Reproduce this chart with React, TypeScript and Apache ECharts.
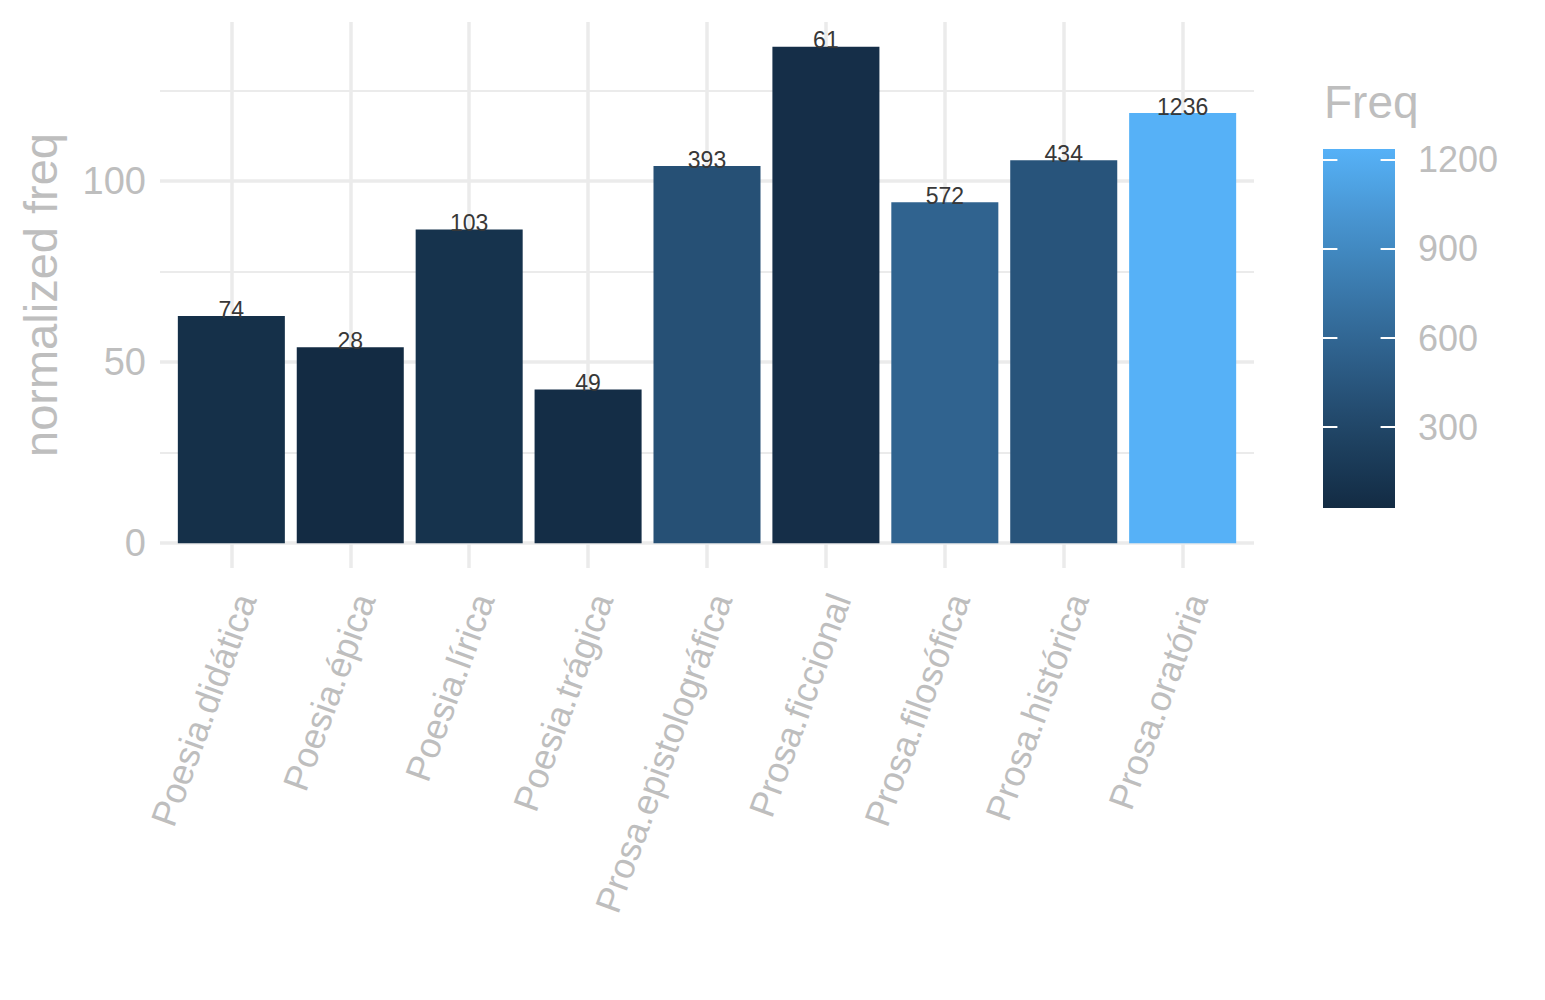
import React, { useEffect, useRef } from "react";
import * as echarts from "echarts";

// data
const genres = [
  "Poesia.didática",
  "Poesia.épica",
  "Poesia.lírica",
  "Poesia.trágica",
  "Prosa.epistolográfica",
  "Prosa.ficcional",
  "Prosa.filosófica",
  "Prosa.histórica",
  "Prosa.oratória",
];
const normFreq = [62.7, 54.1, 86.6, 42.4, 104.1, 137.0, 94.1, 105.7, 118.7];
const freq = [74, 28, 103, 49, 393, 61, 572, 434, 1236];

const lowColor = "#132B43";
const highColor = "#56B1F7";
const textGrey = "#BEBEBE";
const gridGrey = "#EBEBEB";

// ggplot blends its gradient in CIELAB, so build a few stops that way
function toLab(hex: string) {
  const rgb = [1, 3, 5].map((i) => parseInt(hex.slice(i, i + 2), 16) / 255);
  const [r, g, b] = rgb.map((c) => (c <= 0.04045 ? c / 12.92 : Math.pow((c + 0.055) / 1.055, 2.4)));
  const x = (0.4124 * r + 0.3576 * g + 0.1805 * b) / 0.95047;
  const y = 0.2126 * r + 0.7152 * g + 0.0722 * b;
  const z = (0.0193 * r + 0.1192 * g + 0.9505 * b) / 1.08883;
  const f = (t: number) => (t > 0.008856 ? Math.cbrt(t) : 7.787 * t + 16 / 116);
  return [116 * f(y) - 16, 500 * (f(x) - f(y)), 200 * (f(y) - f(z))];
}

function fromLab([L, A, B]: number[]) {
  const fy = (L + 16) / 116;
  const fx = fy + A / 500;
  const fz = fy - B / 200;
  const inv = (t: number) => (t * t * t > 0.008856 ? t * t * t : (t - 16 / 116) / 7.787);
  const x = inv(fx) * 0.95047;
  const y = inv(fy);
  const z = inv(fz) * 1.08883;
  const lin = [
    3.2406 * x - 1.5372 * y - 0.4986 * z,
    -0.9689 * x + 1.8758 * y + 0.0415 * z,
    0.0557 * x - 0.204 * y + 1.057 * z,
  ];
  return (
    "#" +
    lin
      .map((c) => {
        const s = c <= 0.0031308 ? 12.92 * c : 1.055 * Math.pow(c, 1 / 2.4) - 0.055;
        const v = Math.round(Math.min(1, Math.max(0, s)) * 255);
        return v.toString(16).padStart(2, "0");
      })
      .join("")
  );
}

function labRamp(a: string, b: string, n: number) {
  const la = toLab(a);
  const lb = toLab(b);
  const out: string[] = [];
  for (let i = 0; i < n; i++) {
    const t = i / (n - 1);
    out.push(fromLab(la.map((v, k) => v + (lb[k] - v) * t)));
  }
  return out;
}

export default function App() {
  const chartRef = useRef<HTMLDivElement>(null);

  useEffect(() => {
    if (!chartRef.current) return;
    const chart = echarts.init(chartRef.current, null, { renderer: "svg" });

    const yTop = Math.max(...normFreq);
    const yMin = -0.05 * yTop;
    const yMax = yTop * 1.05;
    const fMin = Math.min(...freq);
    const fMax = Math.max(...freq);
    const ramp = labRamp(lowColor, highColor, 12);

    // panel 160..1254; discrete axis padded by 0.6 of a band on each side
    const panelLeft = 160;
    const panelWidth = 1094;
    const band = panelWidth / (genres.length - 1 + 1.2);

    // colour bar box, ticks are a fifth of its width on each side
    const bar = { x: 1323, y: 149, w: 72, h: 359 };
    const tickLen = bar.w / 5;

    const option = {
      animation: false,
      textStyle: { fontFamily: "Liberation Sans, Arial, Helvetica, sans-serif" },
      title: {
        text: "Freq",
        left: 1324,
        top: 79,
        padding: 0,
        textStyle: { fontSize: 46, fontWeight: "normal", color: textGrey },
      },
      graphic: [
        {
          type: "rect",
          z: 1,
          shape: { x: bar.x, y: bar.y, width: bar.w, height: bar.h },
          style: {
            fill: new echarts.graphic.LinearGradient(
              0,
              1,
              0,
              0,
              ramp.map((c, i) => ({ offset: i / (ramp.length - 1), color: c }))
            ),
          },
        },
      ],
      grid: [
        { left: panelLeft, top: 22, width: panelWidth, height: 546, outerBoundsMode: "none" },
        {
          left: panelLeft + 0.1 * band,
          top: 22,
          width: band * genres.length,
          height: 546,
          outerBoundsMode: "none",
        },
        { left: bar.x, top: bar.y, width: bar.w, height: bar.h, outerBoundsMode: "none" },
      ],
      xAxis: [
        { type: "value", gridIndex: 0, min: 0, max: 1, show: false },
        {
          type: "category",
          gridIndex: 1,
          data: genres,
          axisLine: { show: false },
          axisTick: { show: false },
          splitLine: { show: true, alignWithLabel: true, lineStyle: { color: gridGrey, width: 3.5 } },
          axisLabel: {
            interval: 0,
            rotate: 70,
            align: "right",
            verticalAlign: "top",
            lineHeight: 30,
            margin: 22,
            fontSize: 36,
            color: textGrey,
          },
        },
        { type: "value", gridIndex: 2, min: 0, max: 1, show: false },
      ],
      yAxis: [
        {
          type: "value",
          gridIndex: 0,
          min: yMin,
          max: yMax,
          splitNumber: 3,
          axisLine: { show: false },
          axisTick: { show: false },
          axisLabel: {
            fontSize: 38,
            color: textGrey,
            margin: 14,
            showMinLabel: false,
            showMaxLabel: false,
          },
          splitLine: {
            show: true,
            showMinLine: false,
            showMaxLine: false,
            lineStyle: { color: gridGrey, width: 3.5 },
          },
          minorTick: { show: false, splitNumber: 2 },
          minorSplitLine: { show: true, lineStyle: { color: gridGrey, width: 1.8 } },
          name: "normalized freq",
          nameLocation: "middle",
          nameGap: 96,
          nameTextStyle: { fontSize: 47, color: textGrey },
        },
        { type: "value", gridIndex: 1, min: yMin, max: yMax, show: false },
        {
          type: "value",
          gridIndex: 2,
          position: "right",
          min: fMin,
          max: fMax,
          splitNumber: 4,
          z: 10,
          axisLine: { show: false },
          axisTick: { show: false },
          axisLabel: {
            fontSize: 36,
            color: textGrey,
            margin: 23,
            showMinLabel: false,
            showMaxLabel: false,
            formatter: (v: number) => String(v),
          },
          // white dashes give the short ticks at both edges of the bar
          splitLine: {
            show: true,
            showMinLine: false,
            showMaxLine: false,
            lineStyle: { color: "#ffffff", width: 2, type: [tickLen, bar.w - 2 * tickLen] },
          },
        },
      ],
      visualMap: {
        type: "continuous",
        show: false,
        seriesIndex: 0,
        dimension: 2,
        min: fMin,
        max: fMax,
        inRange: { color: ramp },
      },
      dataset: {
        source: genres.map((g, i) => [g, normFreq[i], freq[i]]),
      },
      series: [
        {
          type: "bar",
          xAxisIndex: 1,
          yAxisIndex: 1,
          encode: { x: 0, y: 1 },
          barWidth: "90%",
          label: {
            show: true,
            position: "top",
            distance: -5,
            fontSize: 23,
            color: "#383838",
            formatter: (p: any) => String(p.value[2]),
          },
        },
      ],
    };

    chart.setOption(option as any);
    return () => {
      chart.dispose();
    };
  }, []);

  return (
    <div
      ref={chartRef}
      style={{ position: "fixed", left: 0, top: 0, width: 1545, height: 1000, background: "#ffffff" }}
    ></div>
  );
}
